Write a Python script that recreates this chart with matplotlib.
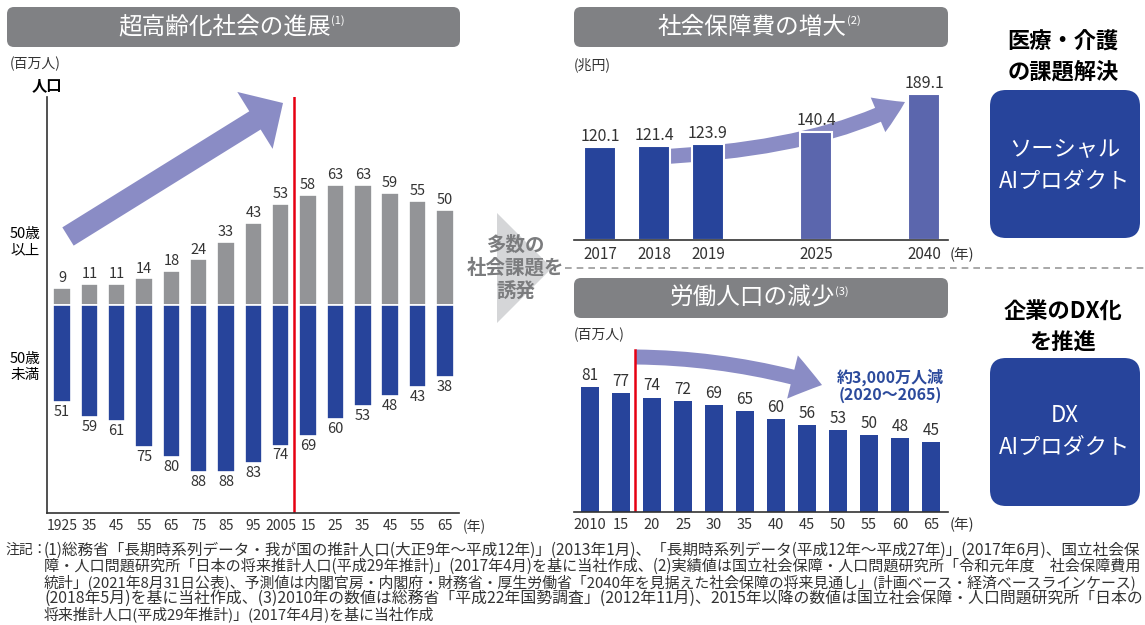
import numpy as np
import matplotlib.pyplot as plt
from matplotlib.patches import FancyBboxPatch, FancyArrow, FancyArrowPatch, Polygon
from matplotlib.path import Path

plt.rcParams['font.family'] = ['Noto Sans CJK JP', 'DejaVu Sans']

W, H = 1145, 625

# ---- data ----
pop_years = ['1925', '35', '45', '55', '65', '75', '85', '95', '2005',
             '15', '25', '35', '45', '55', '65']
pop_over50 = [9, 11, 11, 14, 18, 24, 33, 43, 53, 58, 63, 63, 59, 55, 50]
pop_under50 = [51, 59, 61, 75, 80, 88, 88, 83, 74, 69, 60, 53, 48, 43, 38]

cost_years = ['2017', '2018', '2019', '2025', '2040']
cost_values = [120.1, 121.4, 123.9, 140.4, 189.1]
cost_actual = [True, True, True, False, False]

labor_years = ['2010', '15', '20', '25', '30', '35', '40', '45', '50', '55', '60', '65']
labor_values = [81, 77, 74, 72, 69, 65, 60, 56, 53, 50, 48, 45]

notes = [
    "(1)総務省「長期時系列データ・我が国の推計人口(大正9年〜平成12年)」(2013年1月)、「長期時系列データ(平成12年〜平成27年)」(2017年6月)、国立社会保",
    "障・人口問題研究所「日本の将来推計人口(平成29年推計)」(2017年4月)を基に当社作成、(2)実績値は国立社会保障・人口問題研究所「令和元年度\u3000社会保障費用",
    "統計」(2021年8月31日公表)、予測値は内閣官房・内閣府・財務省・厚生労働省「2040年を見据えた社会保障の将来見通し」(計画ベース・経済ベースラインケース)",
    "(2018年5月)を基に当社作成、(3)2010年の数値は総務省「平成22年国勢調査」(2012年11月)、2015年以降の数値は国立社会保障・人口問題研究所「日本の",
    "将来推計人口(平成29年推計)」(2017年4月)を基に当社作成",
]

BLUE = '#27449b'
LBLUE = '#5b66ad'
GREY = '#939497'
ARROW = '#8a8cc5'
TITLE = '#808184'
RED = '#e60012'
TXT = '#333333'

fig = plt.figure(figsize=(W / 100, H / 100), dpi=100)
bg = fig.add_axes([0, 0, 1, 1])
bg.set_xlim(0, W)
bg.set_ylim(H, 0)
bg.axis('off')


def px_axes(x0, y0, x1, y1):
    ax = fig.add_axes([x0 / W, 1 - y1 / H, (x1 - x0) / W, (y1 - y0) / H])
    ax.patch.set_visible(False)
    for s in ['top', 'right', 'left']:
        ax.spines[s].set_visible(False)
    ax.spines['bottom'].set_color(TXT)
    ax.spines['bottom'].set_linewidth(1.2)
    ax.set_yticks([])
    ax.tick_params(axis='x', length=0, labelcolor=TXT)
    return ax


def title_box(x0, x1, y0, y1, text, sup):
    bg.add_patch(FancyBboxPatch((x0, y0), x1 - x0, y1 - y0,
                                boxstyle='round,pad=0,rounding_size=7',
                                fc=TITLE, ec='none'))
    t = bg.text((x0 + x1) / 2 - 9, (y0 + y1) / 2, text, color='white',
                fontsize=17, ha='center', va='center')
    bg.annotate(sup, xy=(1, 0.8), xycoords=t, color='white', fontsize=8,
                ha='left', va='center')


# ---- left: population ----
title_box(7, 460, 7, 47, '超高齢化社会の進展', '(1)')
ax1 = px_axes(47, 97, 459, 513)
ax1.spines['left'].set_visible(True)
ax1.spines['left'].set_color(TXT)
ax1.spines['left'].set_linewidth(1.2)
x1 = np.arange(len(pop_years))
ax1.bar(x1, pop_over50, width=0.64, color=GREY, edgecolor='white', linewidth=1.2)
ax1.bar(x1, [-v for v in pop_under50], width=0.64, color=BLUE, edgecolor='white', linewidth=1.2)
for i, (a, b) in enumerate(zip(pop_over50, pop_under50)):
    ax1.text(i, a + 1.5, str(a), ha='center', va='bottom', fontsize=10.5, color=TXT)
    ax1.text(i, -b - 1.5, str(b), ha='center', va='top', fontsize=10.5, color=TXT)
ax1.axvline(8.5, color=RED, lw=1.8)
ax1.set_xlim(-0.55, 14.52)
ax1.set_ylim(-109.5, 109.5)
ax1.set_xticks(x1, pop_years, fontsize=10)
ax1.tick_params(axis='x', pad=4)
bg.text(463, 527, '(年)', fontsize=10, color=TXT, va='center')
bg.text(10, 64, '(百万人)', fontsize=10, color=TXT, va='center')
bg.text(47, 85, '人口', fontsize=11, fontweight='bold', color='black', ha='center', va='center')
for lines, y in [(('50歳', '以上'), 234), (('50歳', '未満'), 359)]:
    bg.text(25, y, lines[0], fontsize=10.5, color='black', ha='center', va='center')
    bg.text(25, y + 16, lines[1], fontsize=10.5, color='black', ha='center', va='center')
bg.add_patch(FancyArrow(68, 236.5, 215, -133.5, width=21.5, head_width=67,
                        head_length=33, length_includes_head=True,
                        fc=ARROW, ec='none'))

# ---- middle chevron ----
bg.add_patch(Polygon([(497, 213), (552, 268), (497, 323)], closed=True,
                     fc='#d5d6d8', ec='none'))
for s, y in [('多数の', 245), ('社会課題を', 268), ('誘発', 292)]:
    bg.text(516, y, s, fontsize=14, fontweight='bold', color='#7b7c7e',
            ha='center', va='center')

# ---- top right: social security cost ----
title_box(574, 948, 7, 47, '社会保障費の増大', '(2)')
cost_slots = [0, 1, 2, 4, 6]
bg.add_patch(FancyArrowPatch(
    path=Path([(655, 157), (815, 150), (905, 102)],
              [Path.MOVETO, Path.CURVE3, Path.CURVE3]),
    arrowstyle='simple,head_length=21.5,head_width=27,tail_width=10.8',
    mutation_scale=1, fc=ARROW, ec='none'))
ax2 = px_axes(574, 80, 948, 240)
ax2.bar(cost_slots, cost_values, width=0.6,
        color=[BLUE if a else LBLUE for a in cost_actual],
        edgecolor='white', linewidth=1.5)
for p, v in zip(cost_slots, cost_values):
    ax2.text(p, v + 3, f'{v:.1f}', ha='center', va='bottom', fontsize=11.5, color=TXT)
ax2.set_xlim(-0.48, 6.44)
ax2.set_ylim(0, 207.5)
ax2.set_xticks(cost_slots, cost_years, fontsize=11)
ax2.tick_params(axis='x', pad=4)
bg.text(950, 255, '(年)', fontsize=10.5, color=TXT, va='center')
bg.text(574, 65, '(兆円)', fontsize=10, color=TXT, va='center')

# ---- bottom right: labor force ----
title_box(574, 948, 278, 318, '労働人口の減少', '(3)')
ax3 = px_axes(574, 345, 948, 512)
x3 = np.arange(len(labor_years))
ax3.bar(x3, labor_values, width=0.6, color=BLUE)
for i, v in enumerate(labor_values):
    ax3.text(i, v + 2, str(v), ha='center', va='bottom', fontsize=11, color=TXT)
ax3.plot([1.45, 1.45], [0, 105], color=RED, lw=1.8)
ax3.set_xlim(-0.52, 11.55)
ax3.set_ylim(0, 108)
ax3.set_xticks(x3, labor_years, fontsize=10.5)
ax3.tick_params(axis='x', pad=4)
bg.text(950, 525, '(年)', fontsize=10.5, color=TXT, va='center')
bg.text(574, 335, '(百万人)', fontsize=10, color=TXT, va='center')
bg.add_patch(FancyArrowPatch(
    path=Path([(636, 357), (730, 358), (822, 385)],
              [Path.MOVETO, Path.CURVE3, Path.CURVE3]),
    arrowstyle='simple,head_length=22,head_width=32,tail_width=10.8',
    mutation_scale=1, fc=ARROW, ec='none'))
bg.text(890, 377, '約3,000万人減', fontsize=11.5, fontweight='bold', color='#2b4a9c',
        ha='center', va='center')
bg.text(890, 395, '(2020〜2065)', fontsize=11.5, fontweight='bold', color='#2b4a9c',
        ha='center', va='center')

# ---- right side boxes ----
bg.plot([565, 1145], [268, 268], ls=(0, (4, 3)), color='#9a9a9a', lw=1.2)
for head, y0, body, by in [(('医療・介護', 'の課題解決'), 42, ('ソーシャル', 'AIプロダクト'), (150, 181)),
                           (('企業のDX化', 'を推進'), 312, ('DX', 'AIプロダクト'), (415, 447))]:
    bg.text(1063, y0, head[0], fontsize=16, fontweight='bold', color='black', ha='center', va='center')
    bg.text(1063, y0 + 30, head[1], fontsize=16, fontweight='bold', color='black', ha='center', va='center')
    box_top = 90 if y0 < 100 else 358
    bg.add_patch(FancyBboxPatch((990, box_top), 150, 148,
                                boxstyle='round,pad=0,rounding_size=16',
                                fc=BLUE, ec='none'))
    bg.text(1065, by[0], body[0], fontsize=16, color='white', ha='center', va='center')
    bg.text(1065, by[1], body[1], fontsize=16, color='white', ha='center', va='center')

# ---- footnotes (each full line stretched to the right edge) ----
renderer = fig.canvas.get_renderer()
bg.text(5, 550, '注記：', fontsize=10, color=TXT, va='center')
note_texts = []
for k, s in enumerate(notes):
    note_texts.append(bg.text(44, 550 + 16 * k, s, fontsize=10, color=TXT, va='center'))
fits = [(1140 - 44) / t.get_window_extent(renderer).width for t in note_texts[:4]]
for t, f in zip(note_texts[:4], fits):
    t.set_fontsize(10 * f)
note_texts[4].set_fontsize(10 * min(fits))

fig.savefig('out.png', dpi=100)
